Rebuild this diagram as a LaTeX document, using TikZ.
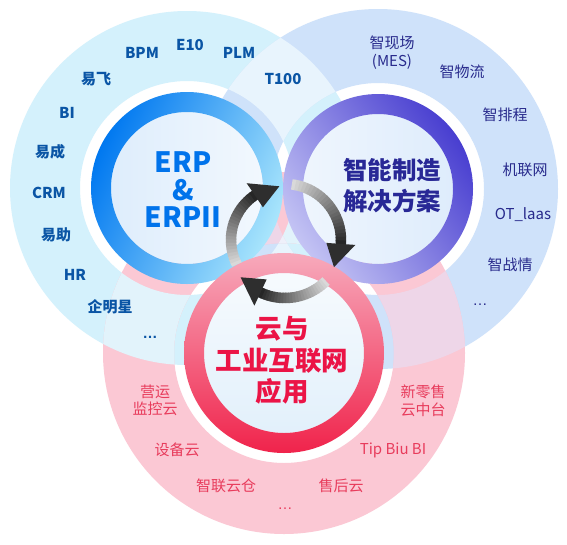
\documentclass[tikz,border=0pt]{standalone}
\usepackage{fontspec}
\setmainfont{Noto Sans CJK SC}
\newfontfamily\lat{Liberation Sans}
\usetikzlibrary{calc}
\definecolor{Bann}{RGB}{212,241,252}
\definecolor{Pann}{RGB}{207,226,250}
\definecolor{Rann}{RGB}{251,200,212}
\definecolor{BPann}{RGB}{232,244,253}
\definecolor{BRann}{RGB}{226,243,251}
\definecolor{PRann}{RGB}{238,214,232}
\definecolor{BPRann}{RGB}{238,240,250}
\definecolor{Bdeep}{RGB}{0,120,240}
\definecolor{Blight}{RGB}{170,230,252}
\definecolor{Pdeep}{RGB}{72,62,208}
\definecolor{Plight}{RGB}{196,196,244}
\definecolor{Rdeep}{RGB}{240,35,75}
\definecolor{Rlight}{RGB}{247,170,188}
\definecolor{Bin}{RGB}{222,237,252}
\definecolor{Pin}{RGB}{222,236,252}
\definecolor{Rin}{RGB}{226,240,251}
\definecolor{Btxt}{RGB}{10,85,165}
\definecolor{Ptxt}{RGB}{40,42,140}
\definecolor{Rtxt}{RGB}{232,60,92}
\definecolor{ERPtxt}{RGB}{0,115,235}
\definecolor{Ptitle}{RGB}{40,40,150}
\definecolor{Rtitle}{RGB}{235,20,70}

\newcommand\cycarrow[4]{%
  \pgfmathsetmacro\arspan{#1-(#2)}%
  \foreach \i in {0,...,23}{%
    \pgfmathsetmacro\angA{#1-\arspan*\i/24}%
    \pgfmathsetmacro\angB{#1-\arspan*(\i+1)/24-0.8}%
    \pgfmathtruncatemacro\cc{15+70*\i/23}%
    \draw[line width=10.5pt, black!\cc!white]
      ($(A)+(\angA:#4pt)$) arc[start angle=\angA, end angle=\angB, radius=#4pt];
  }%
  \fill[black!82] ($(A)+(#3:#4pt)$) -- ($(A)+(#2:#4pt-14.5pt)$) -- ($(A)+(#2:#4pt+14.5pt)$) -- cycle;
}

\begin{document}
\begin{tikzpicture}[x=1pt,y=-1pt,
  lbl/.style={inner sep=0pt, font=\fontsize{15}{17}\selectfont},
  blbl/.style={inner sep=0pt, text=Btxt, font=\fontsize{15}{17}\selectfont\bfseries},
  plbl/.style={lbl, text=Ptxt},
  rlbl/.style={lbl, text=Rtxt},
  erpt/.style={inner sep=0pt, text=ERPtxt, font=\fontsize{28}{30}\selectfont\bfseries},
  ptit/.style={inner sep=0pt, text=Ptitle, font=\fontsize{24.5}{27}\selectfont\bfseries},
  rtit/.style={inner sep=0pt, text=Rtitle, font=\fontsize{26.5}{29}\selectfont\bfseries}
]
\useasboundingbox (0,0) rectangle (567,544);
\fill[white] (0,0) rectangle (567,544);
\coordinate (B) at (187,188);
\coordinate (P) at (378,189);
\coordinate (R) at (284,353);
\coordinate (A) at (285,240);

% outer annuli
\fill[Bann, even odd rule] (B) circle (177pt) (B) circle (107pt);
\fill[Pann, even odd rule] (P) circle (180pt) (P) circle (106pt);
\begin{scope}[even odd rule]
  \clip (B) circle (177pt) (B) circle (107pt);
  \fill[BPann] (P) circle (180pt) (P) circle (106pt);
\end{scope}
\fill[Rann, even odd rule] (R) circle (181pt) (R) circle (110pt);
\begin{scope}[even odd rule]
  \clip (B) circle (177pt) (B) circle (107pt);
  \fill[BRann] (R) circle (181pt) (R) circle (110pt);
\end{scope}
\begin{scope}[even odd rule]
  \clip (P) circle (180pt) (P) circle (106pt);
  \fill[PRann] (R) circle (181pt) (R) circle (110pt);
\end{scope}
\begin{scope}[even odd rule]
  \clip (B) circle (177pt) (B) circle (107pt);
  \clip (P) circle (180pt) (P) circle (106pt);
  \fill[BPRann] (R) circle (181pt) (R) circle (110pt);
\end{scope}

% inner disks and rings
\shade[left color=Bin, right color=white!60!Bin] (B) circle (76pt);
\shade[even odd rule, left color=Bdeep, right color=Blight, shading angle=65] (B) circle (96pt) (B) circle (76pt);
\shade[left color=white!50!Pin, right color=Pin] (P) circle (75pt);
\shade[even odd rule, left color=Plight, right color=Pdeep, shading angle=125] (P) circle (95pt) (P) circle (75pt);
\shade[top color=white!70!Rin, bottom color=Rin] (R) circle (80pt);
\shade[even odd rule, top color=Rlight, bottom color=Rdeep] (R) circle (100pt) (R) circle (80pt);

% cycle arrows
\cycarrow{207}{124}{96}{54}
\cycarrow{83}{-4}{-29}{56}
\cycarrow{-45}{-115}{-140}{58}

% titles
\node[erpt] (erp1) at (183,162) {ERP};
\node[erpt] (erp2) at (183,190) {\&};
\node[erpt] (erp3) at (183,217) {ERPII};
\node[ptit] (pt1) at (392,170) {智能制造};
\node[ptit] (pt2) at (392,201) {解决方案};
\node[rtit] (rt1) at (282,329) {云与};
\node[rtit] (rt2) at (282,361) {工业互联网};
\node[rtit] (rt3) at (282,391) {应用};

% blue labels
\node[blbl] (bpm) at (142,53) {BPM};
\node[blbl] (e10) at (190,45) {E10};
\node[blbl] (plm) at (239,53) {PLM};
\node[blbl] (t100) at (283,79) {T100};
\node[blbl] (yf) at (96,79) {易飞};
\node[blbl] (bi) at (67,113) {BI};
\node[blbl] (yc) at (50,152) {易成};
\node[blbl] (crm) at (49,193) {CRM};
\node[blbl] (yz) at (56,235) {易助};
\node[blbl] (hr) at (75,275) {HR};
\node[blbl] (qmx) at (110,307) {企明星};
\node[blbl] (bdots) at (150,337) {\lat …};

% purple labels
\node[plbl] (zxc) at (392,43) {智现场};
\node[plbl] (mes) at (392,62) {(MES)};
\node[plbl] (zwl) at (462,72) {智物流};
\node[plbl] (zpc) at (505,115) {智排程};
\node[plbl] (jlw) at (525,170) {机联网};
\node[plbl] (ot) at (523,215) {OT\_laas};
\node[plbl] (zzq) at (510,265) {智战情};
\node[plbl] (pdots) at (480,305) {\lat …};

% pink labels
\node[rlbl] (yy) at (155,392) {营运};
\node[rlbl] (jky) at (155,409) {监控云};
\node[rlbl] (sby) at (177,450) {设备云};
\node[rlbl] (zlyc) at (226,486) {智联云仓};
\node[rlbl] (shy) at (341,486) {售后云};
\node[rlbl] (tip) at (393,450) {Tip Biu BI};
\node[rlbl] (xls) at (423,392) {新零售};
\node[rlbl] (yzt) at (423,410) {云中台};
\node[rlbl] (rdots) at (285,509) {\lat …};
\end{tikzpicture}
\end{document}
